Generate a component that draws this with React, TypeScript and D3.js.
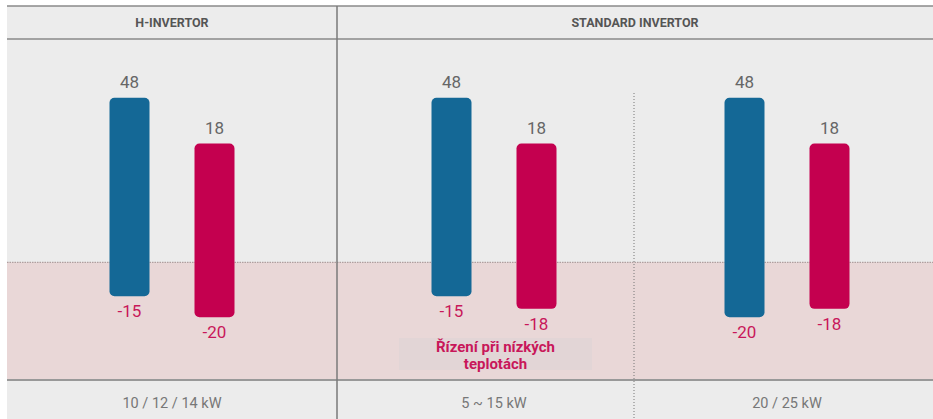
import React from "react";
import * as d3 from "d3";

// ---- data ----
const groupTitles = ["H-INVERTOR", "STANDARD INVERTOR"];
const categories = ["10 / 12 / 14 kW", "5 ~ 15 kW", "20 / 25 kW"];
const seriesKeys = ["blue", "red"];
const blueMax = [48, 48, 48];
const blueMin = [-15, -15, -20];
const redMax = [18, 18, 18];
const redMin = [-20, -18, -18];
const noteLines = ["Řízení při nízkých", "teplotách"];

// ---- layout ----
const W = 933;
const H = 419;
const left = 7;
const right = 933;
const topLine = 6;
const headerLine = 39;
const zeroY = 262.3;
const bottomLine = 380;
const colEdges = [7, 337, 634, 933];

const COLORS = {
  bg: "#ececec",
  pink: "#e9d7d7",
  blue: "#146896",
  red: "#c4004f",
  redText: "#c8175a",
  gray: "#666666",
  line: "#8a8a8a",
};

const FONT = "Roboto, 'Open Sans', sans-serif";

export default function App() {
  const yPos = d3.scalePow().exponent(1 / 3).domain([0, 48]).range([zeroY, 97.7]);
  const yNeg = d3.scaleLinear().domain([-15, -20]).range([296.3, 317.2]);
  const y = (v: number) => (v >= 0 ? yPos(v) : yNeg(v));

  const xCol = d3.scaleOrdinal<string, number>().domain(categories).range([172, 494, 787]);
  const xInner = d3.scaleBand<string>().domain(seriesKeys).range([-62.5, 62.5]).paddingInner(45 / 85);

  const series = [
    { key: "blue", max: blueMax, min: blueMin, color: COLORS.blue },
    { key: "red", max: redMax, min: redMin, color: COLORS.red },
  ];

  const headerSpans = [
    [colEdges[0], colEdges[1]],
    [colEdges[1], colEdges[3]],
  ];

  return (
    <svg
      width={W}
      height={H}
      style={{ position: "absolute", left: 0, top: 0, fontFamily: FONT }}
    >
      <rect x={0} y={0} width={W} height={H} fill="#ffffff" />
      {/* background */}
      <rect x={left} y={topLine} width={right - left} height={H - topLine} fill={COLORS.bg} />
      {/* pink low-temp zone */}
      <rect x={left} y={zeroY} width={right - left} height={bottomLine - zeroY} fill={COLORS.pink} />
      <line x1={left} x2={right} y1={zeroY} y2={zeroY} stroke="#a09090" strokeWidth={1} strokeDasharray="1.5,1" />

      {/* horizontal rules */}
      <line x1={left} x2={right} y1={topLine} y2={topLine} stroke={COLORS.line} strokeWidth={1.5} />
      <line x1={left} x2={right} y1={headerLine} y2={headerLine} stroke={COLORS.line} strokeWidth={1.5} />
      <line x1={left} x2={right} y1={bottomLine} y2={bottomLine} stroke="#999" strokeWidth={2} />

      {/* vertical separators */}
      <line x1={colEdges[1]} x2={colEdges[1]} y1={topLine} y2={H} stroke="#7a7a7a" strokeWidth={1.5} />
      <line x1={colEdges[2]} x2={colEdges[2]} y1={93} y2={H} stroke="#777" strokeWidth={1} strokeDasharray="1,2" />

      {/* header titles */}
      {groupTitles.map((t, i) => (
        <text
          key={t}
          x={(headerSpans[i][0] + headerSpans[i][1]) / 2}
          y={27}
          textAnchor="middle"
          fontSize={12.5}
          fontWeight={700}
          fill="#555"
        >
          {t}
        </text>
      ))}

      {/* bars */}
      {categories.map((c, ci) => (
        <g key={c} transform={`translate(${xCol(c)},0)`}>
          {series.map((s) => {
            const x0 = xInner(s.key)!;
            const bw = xInner.bandwidth();
            const yt = y(s.max[ci]);
            const yb = y(s.min[ci]);
            return (
              <g key={s.key}>
                <rect x={x0} y={yt} width={bw} height={yb - yt} rx={5} ry={5} fill={s.color} />
                <text
                  x={x0 + bw / 2}
                  y={yt - 10}
                  textAnchor="middle"
                  fontSize={17}
                  fill={COLORS.gray}
                >
                  {s.max[ci]}
                </text>
                <text
                  x={x0 + bw / 2}
                  y={yb + 21}
                  textAnchor="middle"
                  fontSize={17}
                  fill={COLORS.redText}
                >
                  {s.min[ci]}
                </text>
              </g>
            );
          })}
          <text x={0} y={408} textAnchor="middle" fontSize={14.5} fill="#777">
            {c}
          </text>
        </g>
      ))}

      {/* note box */}
      <rect x={399} y={338} width={193} height={32} fill="#e2d5d6" />
      {noteLines.map((l, i) => (
        <text
          key={l}
          x={495.5}
          y={351.5 + i * 17.5}
          textAnchor="middle"
          fontSize={15}
          fontWeight={700}
          fill={COLORS.redText}
        >
          {l}
        </text>
      ))}
    </svg>
  );
}
